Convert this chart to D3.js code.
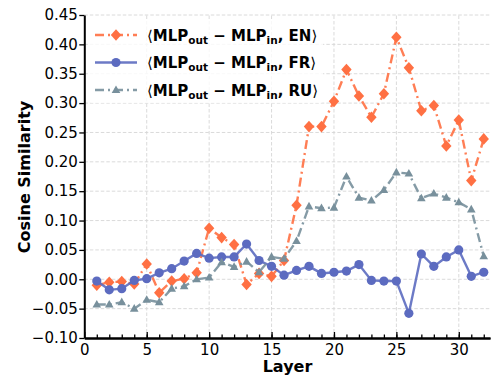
<!DOCTYPE html>
<html><head><meta charset="utf-8">
<script src="https://cdn.jsdelivr.net/npm/d3@7"></script>
<style>body{margin:0;background:#fff}svg{display:block;font-family:"DejaVu Sans",sans-serif}</style>
</head><body><svg id="c" width="498" height="388"></svg>
<script>
const layers = d3.range(1, 33);
const seriesNames = ["EN", "FR", "RU"];
const enValues = [-0.010,-0.005,-0.004,-0.008,0.026,-0.023,-0.003,0.001,0.011,0.087,0.071,0.059,-0.009,0.010,0.005,0.032,0.126,0.260,0.260,0.303,0.357,0.312,0.276,0.316,0.412,0.360,0.287,0.296,0.227,0.271,0.168,0.239];
const frValues = [-0.003,-0.018,-0.016,-0.002,0.001,0.011,0.018,0.031,0.044,0.036,0.038,0.038,0.060,0.032,0.022,0.007,0.015,0.022,0.010,0.012,0.014,0.025,-0.002,-0.003,-0.003,-0.058,0.043,0.022,0.038,0.050,0.005,0.012];
const ruValues = [-0.043,-0.043,-0.039,-0.050,-0.035,-0.039,-0.016,-0.012,0.000,0.003,0.029,0.021,0.030,0.012,0.038,0.035,0.065,0.124,0.121,0.122,0.175,0.139,0.134,0.152,0.182,0.180,0.138,0.146,0.139,0.131,0.119,0.039];
const xTicks = [0,5,10,15,20,25,30];
const yTicks = [-0.10,-0.05,0.00,0.05,0.10,0.15,0.20,0.25,0.30,0.35,0.40,0.45];

const svg = d3.select("#c");
const x = d3.scaleLinear().domain([0, 32.5]).range([84.3, 490]);
const y = d3.scaleLinear().domain([-0.10, 0.45]).range([338, 15]);

// grid
const g = svg.append("g");
g.selectAll("line.vg").data(xTicks.filter(d=>d>0)).join("line")
  .attr("x1", d=>x(d)).attr("x2", d=>x(d)).attr("y1", y(-0.10)).attr("y2", y(0.45))
  .attr("stroke", "#d6d6d6").attr("stroke-width", 0.9).attr("stroke-dasharray", "3.5,2");
g.selectAll("line.hg").data(yTicks.filter(d=>d>-0.1)).join("line")
  .attr("x1", x(0)).attr("x2", x(32.5)).attr("y1", d=>y(d)).attr("y2", d=>y(d))
  .attr("stroke", "#d6d6d6").attr("stroke-width", 0.9).attr("stroke-dasharray", "3.5,2");

const series = [
  {name:"EN", vals:enValues, color:"#ff7043", dash:"9,4,2,4", marker:"diamond"},
  {name:"FR", vals:frValues, color:"#5c6bc0", dash:null, marker:"circle"},
  {name:"RU", vals:ruValues, color:"#78909c", dash:"9,4,2,4", marker:"triangle"}
];
function drawMarker(sel, m, color){
  if(m==="diamond") sel.append("path").attr("d","M0,-5.8L5.2,0L0,5.8L-5.2,0Z").attr("fill",color);
  else if(m==="circle") sel.append("circle").attr("r",4.6).attr("fill",color);
  else sel.append("path").attr("d","M0,-4.6L4.3,3L-4.3,3Z").attr("fill",color);
}
const line = d3.line().x((d,i)=>x(layers[i])).y(d=>y(d));
series.forEach(s=>{
  svg.append("path").datum(s.vals).attr("d", line).attr("fill","none")
    .attr("stroke", s.color).attr("stroke-width", 2.4).attr("stroke-opacity",0.9)
    .attr("stroke-dasharray", s.dash);
  svg.append("g").selectAll("g").data(s.vals).join("g")
    .attr("transform",(d,i)=>`translate(${x(layers[i])},${y(d)})`)
    .each(function(){ drawMarker(d3.select(this), s.marker, s.color); });
});

// axes
const yAxis = svg.append("g").attr("transform",`translate(${x(0)},0)`)
  .call(d3.axisLeft(y).tickValues(yTicks).tickFormat(d3.format(".2f")).tickSize(5).tickPadding(1.5).tickSizeOuter(0));
const xMinor = svg.append("g").attr("transform",`translate(0,${y(-0.10)})`)
  .call(d3.axisBottom(x).tickValues(d3.range(1,33)).tickFormat("").tickSize(-3.5).tickSizeOuter(0));
const xAxis = svg.append("g").attr("transform",`translate(0,${y(-0.10)})`)
  .call(d3.axisBottom(x).tickValues(xTicks).tickFormat(d3.format("d")).tickSize(-6).tickPadding(6).tickSizeOuter(0));
[yAxis,xAxis,xMinor].forEach(a=>{
  a.select(".domain").attr("stroke","#000").attr("stroke-width",2);
  a.selectAll(".tick line").attr("stroke","#000").attr("stroke-width",1.3);
  a.selectAll("text").attr("font-size",15).attr("fill","#000").attr("font-family","DejaVu Sans");
});

svg.append("text").attr("x",287.5).attr("y",372).attr("text-anchor","middle")
  .attr("font-size",16).attr("font-weight","bold").text("Layer");
svg.append("text").attr("transform","translate(30,177) rotate(-90)").attr("text-anchor","middle")
  .attr("font-size",16).attr("font-weight","bold").text("Cosine Similarity");

// legend
svg.append("rect").attr("x",89).attr("y",21).attr("width",234).attr("height",82).attr("rx",3)
  .attr("fill","#fff").attr("fill-opacity",0.8);
series.forEach((s,i)=>{
  const ly = 35 + i*27.5;
  svg.append("line").attr("x1",95).attr("x2",137).attr("y1",ly).attr("y2",ly)
    .attr("stroke",s.color).attr("stroke-width",2.4).attr("stroke-opacity",0.9).attr("stroke-dasharray",s.dash);
  drawMarker(svg.append("g").attr("transform",`translate(116,${ly})`), s.marker, s.color);
  const t = svg.append("text").attr("x",147).attr("y",ly+5.5).attr("font-size",15).attr("font-weight","bold");
  t.append("tspan").attr("font-weight","normal").text("⟨");
  t.append("tspan").text("MLP");
  t.append("tspan").attr("font-size",10.5).attr("dy",3).text("out");
  t.append("tspan").attr("dy",-3).text(" − MLP");
  t.append("tspan").attr("font-size",10.5).attr("dy",3).text("in");
  t.append("tspan").attr("dy",-3).text(", " + s.name);
  t.append("tspan").attr("font-weight","normal").text("⟩");
});
</script></body></html>
